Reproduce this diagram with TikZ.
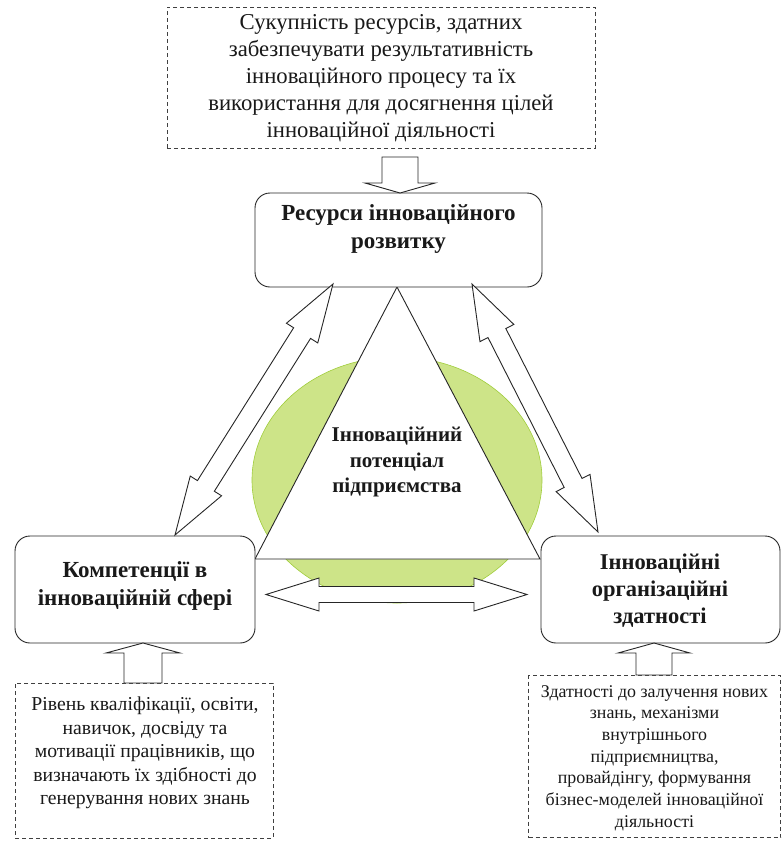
\documentclass[tikz,border=0pt]{standalone}
\usepackage{fontspec}
\setmainfont{Liberation Serif}
\usetikzlibrary{calc}
\definecolor{lgreen}{RGB}{205,228,136}
\definecolor{dgreen}{RGB}{160,205,60}
\newcommand\dblarr[6]{%
  \coordinate (#1p) at ($(#2)!#4!(#3)$);
  \coordinate (#1q) at ($(#3)!#4!(#2)$);
  \draw[barrow] (#2) -- ($(#1p)!#5!90:(#3)$) -- ($(#1p)!#6!90:(#3)$)
    -- ($(#1q)!#6!90:(#3)$) -- ($(#1q)!#5!90:(#3)$) -- (#3)
    -- ($(#1q)!#5!-90:(#3)$) -- ($(#1q)!#6!-90:(#3)$)
    -- ($(#1p)!#6!-90:(#3)$) -- ($(#1p)!#5!-90:(#3)$) -- cycle;}
\begin{document}
\begin{tikzpicture}[x=1pt,y=-1pt,line join=miter,
  box/.style={draw=black!85,line width=0.9pt,rounded corners=15pt,fill=white,inner sep=0pt},
  dbox/.style={draw=black!75,line width=0.8pt,dash pattern=on 4pt off 3pt,inner sep=0pt},
  barrow/.style={draw=black!85,line width=0.9pt,fill=white},
  txt/.style={align=center,inner sep=0pt,text=black!90},
]
\useasboundingbox (0,0) rectangle (782,841);
% green ellipse
\fill[lgreen,draw=dgreen,line width=0.6pt] (397,480) ellipse [x radius=145,y radius=123];
% triangle
\coordinate (tA) at (397,287);
\coordinate (tB) at (255,559);
\coordinate (tC) at (540,559);
\draw[draw=black!85,line width=0.9pt,fill=white] (tA) -- (tB) -- (tC) -- cycle;
% boxes
\node[dbox,minimum width=428pt,minimum height=141pt] (topd) at (381,77.5) {};
\node[box,minimum width=287pt,minimum height=94pt] (res) at (398.5,240) {};
\node[box,minimum width=240pt,minimum height=107pt] (comp) at (135,589.5) {};
\node[box,minimum width=239pt,minimum height=107pt] (org) at (660.5,589.5) {};
\node[dbox,minimum width=258pt,minimum height=155pt] (leftd) at (144,760.5) {};
\node[dbox,minimum width=252pt,minimum height=162pt] (rightd) at (654.5,756.5) {};
% texts
\node[txt,font=\fontsize{22.7}{27}\selectfont] (ttop) at (381,78)
 {Сукупність ресурсів, здатних\\забезпечувати результативність\\інноваційного процесу та їх\\використання для досягнення цілей\\інноваційної діяльності};
\node[txt,font=\fontsize{23}{28}\selectfont\bfseries] (tres) at (398.5,229)
 {Ресурси інноваційного\\розвитку};
\node[txt,font=\fontsize{23}{28}\selectfont\bfseries] (tcomp) at (135,586)
 {Компетенції в\\інноваційній сфері};
\node[txt,font=\fontsize{22.5}{27}\selectfont\bfseries] (torg) at (660,591)
 {Інноваційні\\організаційні\\здатності};
\node[txt,font=\fontsize{21}{25.5}\selectfont\bfseries] (tcen) at (397,462)
 {Інноваційний\\потенціал\\підприємства};
\node[txt,font=\fontsize{19.7}{23.5}\selectfont] (tleft) at (145,753)
 {Рівень кваліфікації, освіти,\\навичок, досвіду та\\мотивації працівників, що\\визначають їх здібності до\\генерування нових знань};
\node[txt,font=\fontsize{17.9}{21.7}\selectfont] (tright) at (654.5,758)
 {Здатності до залучення нових\\знань, механізми\\внутрішнього\\підприємництва,\\провайдінгу, формування\\бізнес-моделей інноваційної\\діяльності};
% single block arrows
\coordinate (ta) at (400,193);
\draw[barrow] (ta) -- ++(-35,-10) -- ++(17,0) -- ++(0,-26) -- ++(36,0) -- ++(0,26) -- ++(17,0) -- cycle;
\coordinate (la) at (143,643);
\draw[barrow] (la) -- ++(-37,10) -- ++(18,0) -- ++(0,30) -- ++(38,0) -- ++(0,-30) -- ++(18,0) -- cycle;
\coordinate (ra) at (654,643);
\draw[barrow] (ra) -- ++(-36,10) -- ++(18,0) -- ++(0,22) -- ++(36,0) -- ++(0,-22) -- ++(18,0) -- cycle;
% double block arrows
\coordinate (hA) at (266,594.5);
\coordinate (hB) at (527,594.5);
\dblarr{h}{hA}{hB}{53pt}{16.5pt}{8pt}
\coordinate (lA) at (333,284);
\coordinate (lB) at (175,535);
\dblarr{l}{lA}{lB}{58pt}{18.5pt}{10pt}
\coordinate (rA) at (472,284);
\coordinate (rB) at (598,532);
\dblarr{r}{rA}{rB}{55pt}{19pt}{10pt}
\end{tikzpicture}
\end{document}
